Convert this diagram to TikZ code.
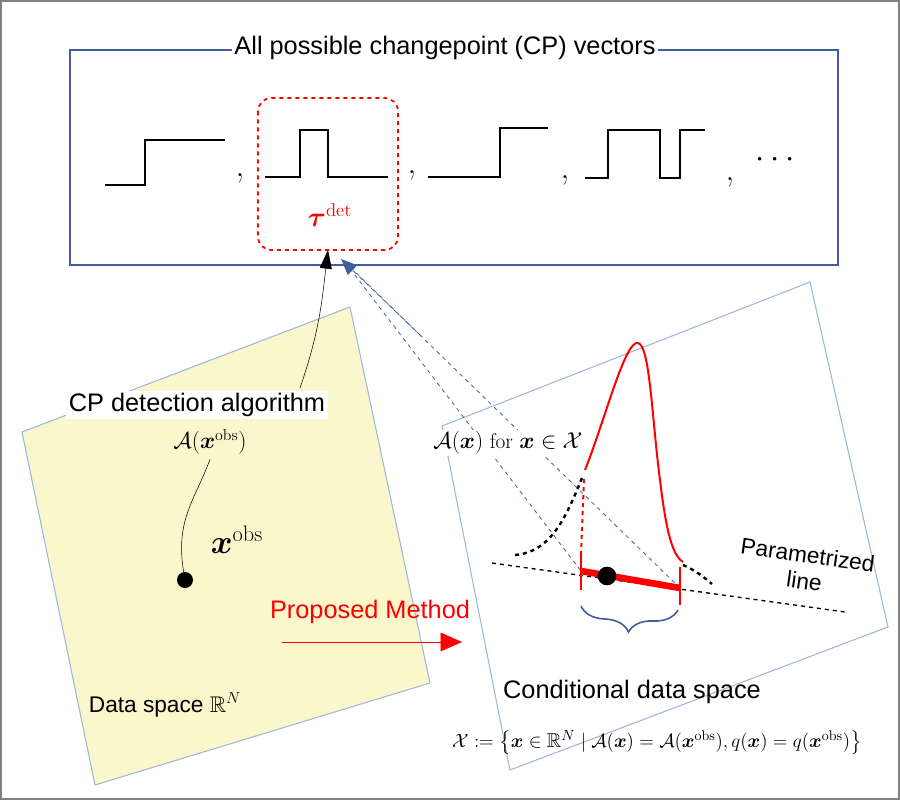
\documentclass[tikz,border=0pt]{standalone}
\usepackage{amsmath,amssymb,bm}
\usepackage{fontspec}
\setsansfont{Liberation Sans}
\usetikzlibrary{
	positioning,
	calc,
	arrows.meta,
	decorations.pathreplacing
}
\definecolor{FrameBlue}{rgb}{0.25, 0.37, 0.62}
\definecolor{PanelBlue}{rgb}{0.62, 0.72, 0.85}
\definecolor{PanelYellow}{rgb}{0.98, 0.97, 0.80}
\newcommand{\Obs}{\bm{x}^{\mathrm{obs}}}
\newcommand{\Alg}{\mathcal{A}}

\begin{document}
\begin{tikzpicture}[
		x=0.75pt, y=-0.75pt,
		label/.style={font=\sffamily\fontsize{17}{20}\selectfont, inner sep=2pt},
		cpstep/.style={line width=2.2pt},
		comma/.style={font=\fontsize{26}{28}\selectfont},
		panel/.style={draw=PanelBlue, line width=0.8pt}
	]
		\useasboundingbox (0,0) rectangle (900,800);
		\draw[gray, line width=1.5pt] (1,1) rectangle (899,799);

		% top box with all CP vectors
		\draw[FrameBlue, line width=0.8pt] (70,50) rectangle (838,265);
		\node[label, fill=white, font=\sffamily\fontsize{19}{22}\selectfont] (title) at (445,48) {All possible changepoint (CP) vectors};

		\draw[cpstep] (105,185) -- (145,185) -- (145,140) -- (225,140);
		\node[comma] (c1) at (240,178) {,};
		\draw[red, dashed, line width=1.3pt, rounded corners=10pt] (258,98) rectangle (398,250);
		\coordinate (detbottom) at (328,250);
		\draw[cpstep] (265,177) -- (300,177) -- (300,130) -- (328,130) -- (328,177) -- (388,177);
		\node[red, font=\fontsize{20}{22}\selectfont] (tau) at (330,215) {$\bm{\tau}^{\mathrm{det}}$};
		\node[comma] (c2) at (412,175) {,};
		\draw[cpstep] (428,177) -- (500,177) -- (500,128) -- (548,128);
		\node[comma] (c3) at (565,180) {,};
		\draw[cpstep] (585,178) -- (608,178) -- (608,130) -- (660,130) -- (660,178) -- (680,178) -- (680,130) -- (705,130);
		\node[comma] (c4) at (730,182) {,};
		\node[font=\fontsize{26}{28}\selectfont\bfseries] (dots) at (778,160) {$\cdots$};

		% data space panel
		\draw[panel, fill=PanelYellow] (22,432) -- (350,307) -- (430,683) -- (95,785) -- cycle;
		% conditional data space panel
		\draw[panel, fill=white] (442,426) -- (810,282) -- (888,627) -- (510,770) -- cycle;

		\node[label, fill=white, font=\sffamily\fontsize{19}{22}\selectfont] (cpalg) at (197,405) {CP detection algorithm};
		\node[font=\fontsize{17}{20}\selectfont] (algobs) at (210,442) {$\Alg(\Obs)$};
		\node[font=\fontsize{24}{26}\selectfont] (xobs) at (237,540) {$\Obs$};
		\node[circle, fill=black, inner sep=0pt, minimum size=12pt] (obsdot) at (185,580) {};
		\node[label] (dataspace) at (165,705) {Data space $\mathbb{R}^N$};

		\draw (obsdot) .. controls (175,520) and (195,500) .. (algobs.south);
		\draw[-{Triangle[length=14pt,width=9pt]}] (300,388) .. controls (320,330) and (322,300) .. (detbottom);

		% proposed method
		\node[label, red, font=\sffamily\fontsize{19}{22}\selectfont] (method) at (370,612) {Proposed Method};
		\coordinate (arrstart) at (282,642);
		\coordinate (arrend) at (462,642);
		\draw[red, -{Triangle[length=16pt,width=14pt]}] (arrstart) -- (arrend);

		% conditional data space contents
		\coordinate (segleft) at (581,571);
		\coordinate (segright) at (680,588);
		\draw[FrameBlue, dashed, line width=0.6pt] (345,262) -- (segleft);
		\draw[FrameBlue, dashed, line width=0.6pt] (345,262) -- (segright);
		\draw[FrameBlue, dashed, line width=0.6pt, -{Triangle[length=12pt,width=10pt]}] (420,335) -- (341,259);
		\node[font=\fontsize{16}{18}\selectfont, fill=white, inner sep=1pt] (algx) at (508,443) {$\Alg(\bm{x})$ for $\bm{x}\in\mathcal{X}$};

		\draw[dashed, line width=1pt] (492,563) -- (845,612);
		\draw[red, line width=5pt] (segleft) -- (segright);
		\draw[red, line width=1.5pt] (581,590) -- (581,555);
		\draw[red, dashed, line width=1.5pt] (581,555) -- (584,478);
		\draw[red, line width=1.5pt] (680,567) -- (680,605);
		\draw[red, line width=1.5pt] (585,470) .. controls (605,420) and (625,340) .. (638,343)
			.. controls (650,345) and (652,420) .. (660,480) .. controls (666,530) and (672,555) .. (683,562);
		\draw[dashed, line width=1.8pt] (515,555) .. controls (550,552) and (565,520) .. (582,478);
		\draw[dashed, line width=1.8pt] (683,565) .. controls (695,570) and (705,578) .. (712,584);
		\node[circle, fill=black, inner sep=0pt, minimum size=14pt] (xdot) at (607,576) {};

		\node[label, align=center, rotate=-8] (paramline) at (806,568) {Parametrized\\line};
		\draw[FrameBlue, line width=1.2pt, decorate, decoration={brace, mirror, amplitude=18pt}] (581,606) -- (678,610);
		\node[label, font=\sffamily\fontsize{19}{22}\selectfont] (condspace) at (632,692) {Conditional data space};
		\node[font=\fontsize{15}{18}\selectfont] (formula) at (657,743) {$\mathcal{X}:=\bigl\{\bm{x}\in\mathbb{R}^N \mid \Alg(\bm{x})=\Alg(\Obs), q(\bm{x})=q(\Obs)\bigr\}$};
	\end{tikzpicture}
\end{document}
